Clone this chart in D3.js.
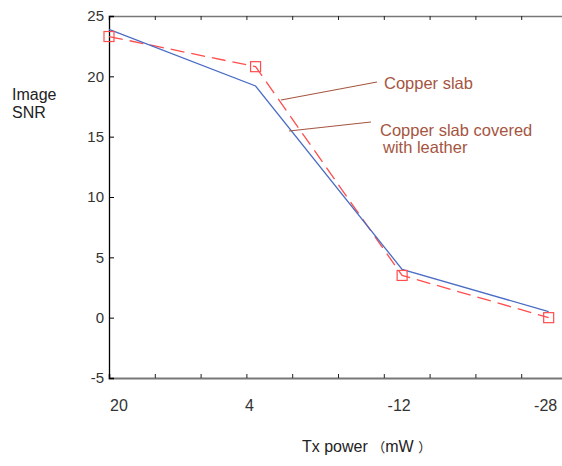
<!DOCTYPE html>
<html>
<head>
<meta charset="utf-8">
<script src="https://cdn.jsdelivr.net/npm/d3@7"></script>
<style>
  html, body { margin: 0; padding: 0; background: #fff; }
  svg { display: block; font-family: "Liberation Sans", Arial, sans-serif; }
</style>
</head>
<body>
<svg id="chart" width="562" height="466"></svg>
<script>
// Transmit power settings (dBm-style axis values) and the labels shown under them
const txPower = [20, 4, -12, -28];
const txLabels = ["20", "4", "-12", "-28"];

// Image SNR for each surface
const snrCopper = [23.9, 19.2, 4.0, 0.5];
const snrLeather = [23.3, 20.8, 3.5, 0.0];

const yTicks = [-5, 0, 5, 10, 15, 20, 25];
const xMinorTicks = [20, 15, 10, 5, 0, -5, -10, -15, -20, -25, -30];

const svg = d3.select("#chart");

const plotLeft = 109, plotRight = 567, plotTop = 16, plotBottom = 378;

const x = d3.scaleLinear().domain([20, -30]).range([plotLeft, plotRight]);
const y = d3.scaleLinear().domain([-5, 25]).range([plotBottom, plotTop]);

// Frame: top and bottom lines with inward ticks
const topAxis = d3.axisTop(x).tickValues(xMinorTicks).tickSize(-4).tickFormat("");
svg.append("g").attr("transform", `translate(0,${plotTop})`).call(topAxis)
  .call(g => g.select(".domain").attr("stroke", "#777").attr("stroke-width", 1.6))
  .call(g => g.selectAll(".tick line").attr("stroke", "#222"));

const bottomAxis = d3.axisBottom(x).tickValues(xMinorTicks).tickSize(-4).tickFormat("");
svg.append("g").attr("transform", `translate(0,${plotBottom})`).call(bottomAxis)
  .call(g => g.select(".domain").attr("stroke", "#777").attr("stroke-width", 2))
  .call(g => g.selectAll(".tick line").attr("stroke", "#222"));

// Left axis with inward ticks
const leftAxis = d3.axisLeft(y).tickValues(yTicks).tickSize(-5).tickPadding(5).tickFormat(d => String(d));
svg.append("g").attr("transform", `translate(${plotLeft},0)`).call(leftAxis)
  .call(g => g.select(".domain").attr("stroke", "#000").attr("stroke-width", 1.3))
  .call(g => g.selectAll(".tick line").attr("stroke", "#000"))
  .call(g => g.selectAll(".tick text").attr("font-size", 15).attr("fill", "#333")
    .attr("font-family", "Liberation Sans, Arial, sans-serif"));

// Category labels under the data positions
svg.append("g").selectAll("text").data(txPower).join("text")
  .attr("x", d => x(d))
  .attr("dx", (d, i) => i === 0 ? 10 : (i === 1 ? -6 : -3))
  .attr("y", 411)
  .attr("text-anchor", "middle")
  .attr("font-size", 16)
  .attr("fill", "#333")
  .text((d, i) => txLabels[i]);

// Series lines
const line = (vals) => d3.line().x((d, i) => x(txPower[i])).y(d => y(d))(vals);

svg.append("path").attr("d", line(snrLeather))
  .attr("fill", "none").attr("stroke", "#ff4d4d").attr("stroke-width", 1.3)
  .attr("stroke-dasharray", "14,7");

svg.append("path").attr("d", line(snrCopper))
  .attr("fill", "none").attr("stroke", "#4a6cc4").attr("stroke-width", 1.3);

svg.append("g").selectAll("rect").data(snrLeather).join("rect")
  .attr("x", (d, i) => x(txPower[i]) - 5)
  .attr("y", d => y(d) - 5)
  .attr("width", 10).attr("height", 10)
  .attr("fill", "none").attr("stroke", "#ff4d4d").attr("stroke-width", 1.2);

// Callouts
const callColor = "#a5553f";
svg.append("line").attr("x1", 281).attr("y1", 100).attr("x2", 377).attr("y2", 82)
  .attr("stroke", callColor).attr("stroke-width", 1.2);
svg.append("line").attr("x1", 289).attr("y1", 131).attr("x2", 371).attr("y2", 122)
  .attr("stroke", callColor).attr("stroke-width", 1.2);

svg.append("text").attr("x", 384).attr("y", 89).attr("font-size", 16.5)
  .attr("fill", callColor).text("Copper slab");
svg.append("text").attr("x", 380).attr("y", 136).attr("font-size", 16.5)
  .attr("fill", callColor).text("Copper slab covered");
svg.append("text").attr("x", 383).attr("y", 153).attr("font-size", 16.5)
  .attr("fill", callColor).text("with leather");

// Axis titles
svg.append("text").attr("x", 12).attr("y", 100).attr("font-size", 16)
  .attr("fill", "#222").text("Image");
svg.append("text").attr("x", 12).attr("y", 118).attr("font-size", 16)
  .attr("fill", "#222").text("SNR");

const xt = svg.append("text").attr("x", 302).attr("y", 452).attr("font-size", 16).attr("fill", "#222");
xt.append("tspan").text("Tx power ");
xt.append("tspan").attr("font-family", "Noto Sans CJK SC").attr("font-size", 13).text("（");
xt.append("tspan").text("mW ");
xt.append("tspan").attr("font-family", "Noto Sans CJK SC").attr("font-size", 13).text("）");
</script>
</body>
</html>
